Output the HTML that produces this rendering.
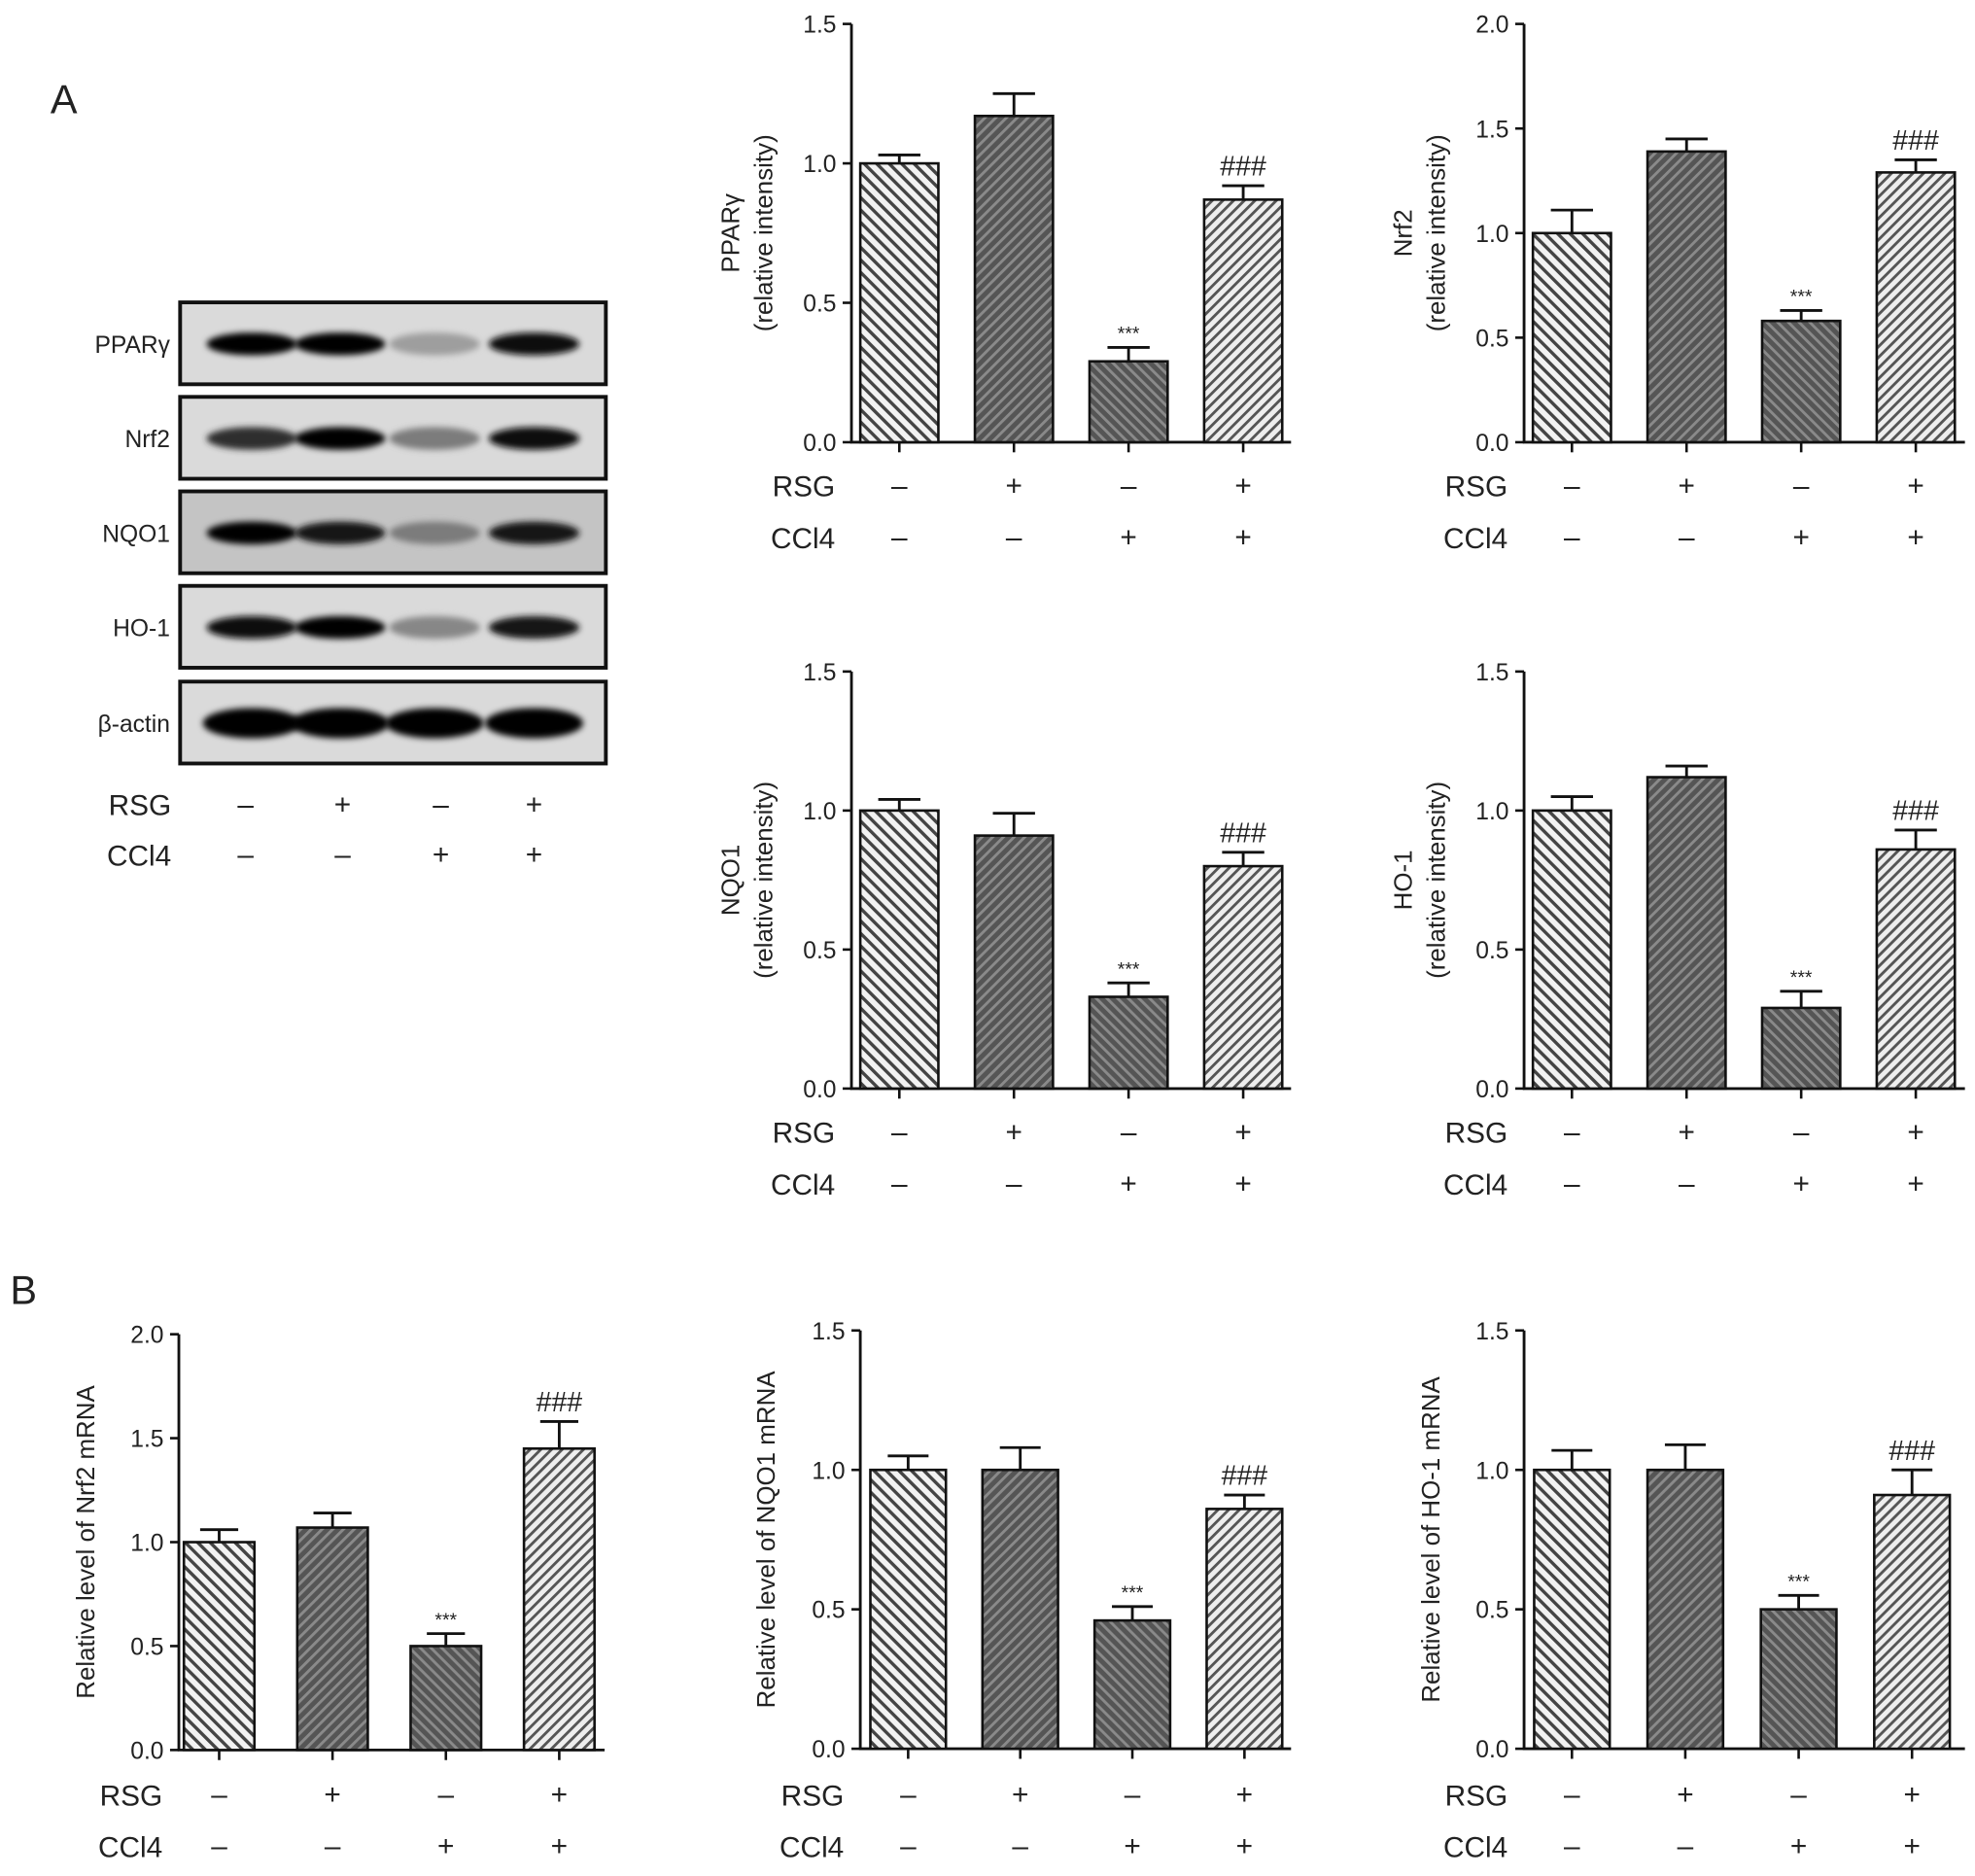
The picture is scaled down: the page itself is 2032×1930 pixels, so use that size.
<!DOCTYPE html>
<html><head><meta charset="utf-8"><style>
html,body{margin:0;padding:0;background:#fff}
svg{display:block}
text{font-family:"Liberation Sans",Arial,sans-serif;fill:#222}
</style></head><body>
<svg id="fig" width="2032" height="1930" viewBox="0 0 1568 1489" preserveAspectRatio="none" xmlns="http://www.w3.org/2000/svg">
<defs>
<pattern id="p1" patternUnits="userSpaceOnUse" width="7" height="7" patternTransform="rotate(-45)"><rect width="7" height="7" fill="#f2f2f2"/><rect width="2.6" height="7" fill="#444"/></pattern>
<pattern id="p2" patternUnits="userSpaceOnUse" width="6" height="6" patternTransform="rotate(45)"><rect width="6" height="6" fill="#555"/><rect width="2.2" height="6" fill="#8a8a8a"/></pattern>
<pattern id="p3" patternUnits="userSpaceOnUse" width="6" height="6" patternTransform="rotate(-45)"><rect width="6" height="6" fill="#555"/><rect width="2.2" height="6" fill="#8a8a8a"/></pattern>
<pattern id="p4" patternUnits="userSpaceOnUse" width="6" height="6" patternTransform="rotate(45)"><rect width="6" height="6" fill="#eee"/><rect width="2.2" height="6" fill="#555"/></pattern>
<filter id="blur" x="-20%" y="-50%" width="140%" height="200%"><feGaussianBlur stdDeviation="2.5"/></filter>
</defs>
<text x="40" y="90" font-size="32">A</text>
<text x="8" y="1035" font-size="32">B</text>
<g id="blots"></g>
<g id="charts"></g>
</svg>
<script>
const NS="http://www.w3.org/2000/svg";
function mk(tag,attrs,parent,txt){const e=document.createElementNS(NS,tag);for(const k in attrs)e.setAttribute(k,attrs[k]);if(txt!==undefined)e.textContent=txt;parent.appendChild(e);return e;}

// ===== data =====
const groups=["Control","RSG","CCl4","RSG+CCl4"];
const rsgSigns=["–","+","–","+"];
const ccl4Signs=["–","–","+","+"];
const ppargMean=[1.0,1.17,0.29,0.87];
const ppargErr=[0.03,0.08,0.05,0.05];
const nrf2Mean=[1.0,1.39,0.58,1.29];
const nrf2Err=[0.11,0.06,0.05,0.06];
const nqo1Mean=[1.0,0.91,0.33,0.80];
const nqo1Err=[0.04,0.08,0.05,0.05];
const ho1Mean=[1.0,1.12,0.29,0.86];
const ho1Err=[0.05,0.04,0.06,0.07];
const nrf2mMean=[1.0,1.07,0.50,1.45];
const nrf2mErr=[0.06,0.07,0.06,0.13];
const nqo1mMean=[1.0,1.0,0.46,0.86];
const nqo1mErr=[0.05,0.08,0.05,0.05];
const ho1mMean=[1.0,1.0,0.50,0.91];
const ho1mErr=[0.07,0.09,0.05,0.09];
const ticks15=[0,0.5,1.0,1.5];
const ticks20=[0,0.5,1.0,1.5,2.0];
const sigLabels=["","","***","###"];
const blotNames=["PPARγ","Nrf2","NQO1","HO-1","β-actin"];
const blotIntensity=[[1,1,0.3,0.95],[0.8,1,0.45,0.95],[1,0.9,0.45,0.9],[0.95,1,0.4,0.9],[1,1,1,1]];

const fills=["url(#p1)","url(#p2)","url(#p3)","url(#p4)"];
const charts=document.getElementById('charts');

function chart(o){
  const g=mk('g',{},charts);
  
  
  const max=o.ticks[o.ticks.length-1];
  const y=v=>o.y0-(o.y0-o.yTop)*v/max;
  const x=i=>o.x0+o.first+i*o.step;
  const ax=mk('line',{x1:o.x0,y1:o.yTop,x2:o.x0,y2:o.y0,stroke:'#111','stroke-width':2.2},g);
  
  const xa=mk('line',{x1:o.x0-1,y1:o.y0,x2:o.xEnd,y2:o.y0,stroke:'#111','stroke-width':2.2},g);
  
  o.ticks.forEach(t=>{
    mk('line',{x1:o.x0-7,y1:y(t),x2:o.x0,y2:y(t),stroke:'#111','stroke-width':2},g);
    const tl=mk('text',{x:o.x0-12,y:y(t)+7,'font-size':19,'text-anchor':'end',fill:'#333'},g,t.toFixed(1));
    
  });
  const cy=(o.yTop+o.y0)/2;
  o.ytitle.forEach((line,k)=>{
    const tx=o.titleX+k*26;
    const tt=mk('text',{x:tx,y:cy,'font-size':20,'text-anchor':'middle',transform:`rotate(-90 ${tx} ${cy})`,fill:'#333'},g,line);
    
  });
  o.mean.forEach((m,i)=>{
    const cx=x(i),bw=o.bw;
    const b=mk('rect',{x:cx-bw/2,y:y(m),width:bw,height:o.y0-y(m),fill:fills[i],stroke:'#111','stroke-width':2},g);
    
    
    const et=y(m+o.err[i]);
    mk('line',{x1:cx,y1:y(m),x2:cx,y2:et,stroke:'#111','stroke-width':2.2},g);
    mk('line',{x1:cx-bw*0.27,y1:et,x2:cx+bw*0.27,y2:et,stroke:'#111','stroke-width':2.2},g);
    mk('line',{x1:cx,y1:o.y0,x2:cx,y2:o.y0+8,stroke:'#111','stroke-width':2},g);
    if(sigLabels[i]){
      const s=mk('text',{x:cx,y:et-(i==2?6:8),'font-size':i==2?15:22,'text-anchor':'middle',fill:'#333'},g,sigLabels[i]);
      
    }
    const r=mk('text',{x:cx,y:o.rsgY+7,'font-size':23,'text-anchor':'middle'},g,rsgSigns[i]);
    
    const c=mk('text',{x:cx,y:o.rsgY+48,'font-size':23,'text-anchor':'middle'},g,ccl4Signs[i]);
    
  });
  const rl=mk('text',{x:o.x0-13,y:o.rsgY+8,'font-size':23,'text-anchor':'end'},g,'RSG');
  
  const cl=mk('text',{x:o.x0-13,y:o.rsgY+49,'font-size':23,'text-anchor':'end'},g,'CCl4');
  
}
const A={first:38,step:91,bw:62};
chart({name:'pparg-chart',x0:676,xEnd:1025,yTop:19,y0:351,ticks:ticks15,mean:ppargMean,err:ppargErr,ytitle:['PPARγ','(relative intensity)'],titleX:587,rsgY:386,...A});
chart({name:'nrf2-protein-chart',x0:1210,xEnd:1560,yTop:19,y0:351,ticks:ticks20,mean:nrf2Mean,err:nrf2Err,ytitle:['Nrf2','(relative intensity)'],titleX:1121,rsgY:386,...A});
chart({name:'nqo1-protein-chart',x0:676,xEnd:1025,yTop:533,y0:864,ticks:ticks15,mean:nqo1Mean,err:nqo1Err,ytitle:['NQO1','(relative intensity)'],titleX:587,rsgY:899,...A});
chart({name:'ho1-protein-chart',x0:1210,xEnd:1560,yTop:533,y0:864,ticks:ticks15,mean:ho1Mean,err:ho1Err,ytitle:['HO-1','(relative intensity)'],titleX:1121,rsgY:899,...A});
chart({name:'nrf2-mrna-chart',x0:142,xEnd:480,yTop:1059,y0:1389,ticks:ticks20,mean:nrf2mMean,err:nrf2mErr,ytitle:['Relative level of Nrf2 mRNA'],titleX:75,rsgY:1425,first:32,step:90,bw:56});
chart({name:'nqo1-mrna-chart',x0:683,xEnd:1025,yTop:1056,y0:1388,ticks:ticks15,mean:nqo1mMean,err:nqo1mErr,ytitle:['Relative level of NQO1 mRNA'],titleX:615,rsgY:1425,first:38,step:89,bw:60});
chart({name:'ho1-mrna-chart',x0:1210,xEnd:1560,yTop:1056,y0:1388,ticks:ticks15,mean:ho1mMean,err:ho1mErr,ytitle:['Relative level of HO-1 mRNA'],titleX:1143,rsgY:1425,first:38,step:90,bw:60});

// ===== blots =====
const blots=document.getElementById('blots');
const laneX=[200,270,345,424];
const panelTop=[240,315,390,465,541];
blotNames.forEach((n,r)=>{
  const t=panelTop[r];
  const p=mk('rect',{x:143,y:t,width:338,height:65,fill:r==2?'#c4c4c4':'#dadada',stroke:'#111','stroke-width':3},blots);
  
  blotIntensity[r].forEach((v,i)=>{
    const gray=Math.round(225-225*v);
    const e=mk('ellipse',{cx:laneX[i],cy:t+33,rx:r==4?39:36,ry:r==4?12:9,fill:`rgb(${gray},${gray},${gray})`,filter:'url(#blur)'},blots);
    
  });
  const l=mk('text',{x:135,y:t+40,'font-size':19,'text-anchor':'end',fill:'#333'},blots,n);
  
});
const laneSym=[195,272,350,424];
[['RSG',rsgSigns,647],['CCl4',ccl4Signs,687]].forEach(([lab,arr,yy])=>{
  const l=mk('text',{x:136,y:yy,'font-size':23,'text-anchor':'end'},blots,lab);
  
  arr.forEach((s,i)=>{const t=mk('text',{x:laneSym[i],y:yy-1,'font-size':23,'text-anchor':'middle'},blots,s);
    });
});
</script>
</body></html>
